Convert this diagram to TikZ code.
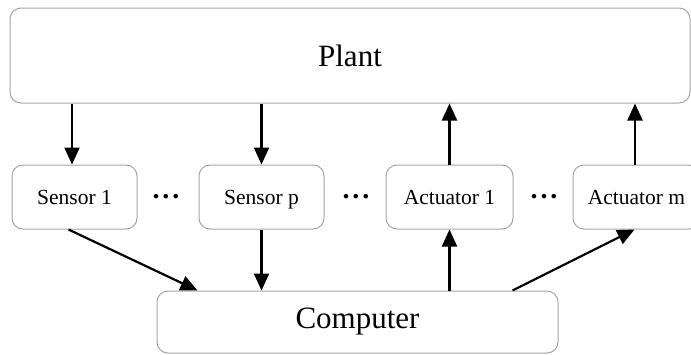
\documentclass[tikz,border=0pt]{standalone}
\usepackage{fontspec}
\setmainfont{Liberation Serif}
\usetikzlibrary{arrows.meta}
\definecolor{boxgray}{RGB}{165,165,165}
\tikzset{
  box/.style={draw=boxgray, line width=1pt, rounded corners=11pt, fill=white, align=center, inner sep=0pt},
  small/.style={box, minimum width=125pt, minimum height=64pt, text height=14pt, text depth=0pt, font=\fontsize{21.5}{24}\selectfont},
  big/.style={box, font=\fontsize{31}{36}\selectfont},
  arr/.style={line width=2.2pt, -{Triangle[length=17pt,width=15pt]}},
  dots/.style={font=\fontsize{28}{30}\selectfont\bfseries, inner sep=0pt}
}
\begin{document}
\begin{tikzpicture}[x=1pt,y=-1pt]
\useasboundingbox (0,0) rectangle (691,354);
\clip (0,0) rectangle (691,354);
\node[big, minimum width=680pt, minimum height=95pt] (plant) at (350,55.5) {Plant};
\node[small] (s1) at (74.5,197) {Sensor 1};
\node[small] (sp) at (261.5,197) {Sensor p};
\node[small, minimum width=127pt] (a1) at (449.5,197) {Actuator 1};
\node[small, minimum width=127pt] (am) at (636.5,197) {Actuator m};
\node[big, minimum width=401pt, minimum height=62pt] (comp) at (357.5,322) {Computer};
\node[dots] (d1) at (166,197) {.\hspace{3pt}.\hspace{3pt}.};
\node[dots] (d2) at (356,197) {.\hspace{3pt}.\hspace{3pt}.};
\node[dots] (d3) at (544,197) {.\hspace{3pt}.\hspace{3pt}.};
\draw[arr] ([xshift=-2.5pt]s1.north |- plant.south) -- ([xshift=-2.5pt]s1.north);
\draw[arr] (sp.north |- plant.south) -- (sp.north);
\draw[arr] (a1.north) -- (a1.north |- plant.south);
\draw[arr] ([xshift=-1.5pt]am.north) -- ([xshift=-1.5pt]am.north |- plant.south);
\draw[arr] ([xshift=-6pt]s1.south) -- ([xshift=-160pt]comp.north);
\draw[arr] (sp.south) -- (sp.south |- comp.north);
\draw[arr] (a1.south |- comp.north) -- (a1.south);
\draw[arr] ([xshift=155pt]comp.north) -- ([xshift=-2pt]am.south);
\end{tikzpicture}
\end{document}
